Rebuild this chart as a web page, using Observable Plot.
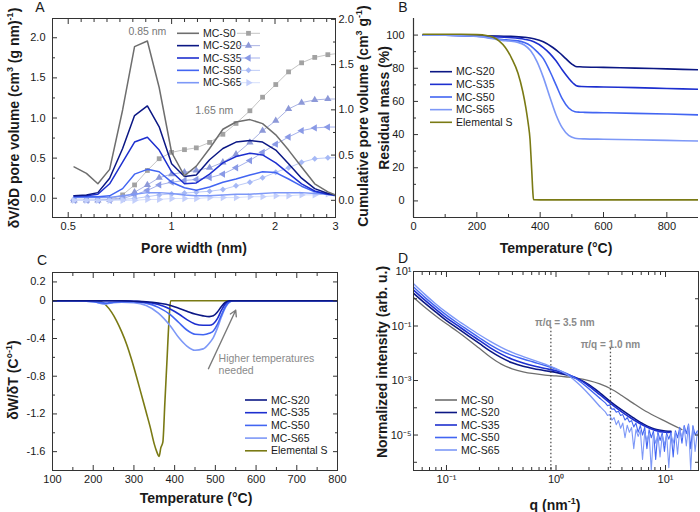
<!DOCTYPE html>
<html>
<head>
<meta charset="utf-8">
<script src="https://cdn.jsdelivr.net/npm/d3@7"></script>
<script src="https://cdn.jsdelivr.net/npm/@observablehq/plot@0.6"></script>
<style>
  body { margin: 0; background: #fff; }
  #fig { position: relative; width: 700px; height: 512px; overflow: hidden; background: #fff;
         font-family: "Liberation Sans", Arial, sans-serif; color: #1a1a1a; }
  .abs { position: absolute; white-space: nowrap; }
  .ct { transform: translate(-50%, -50%); }
  .vt { transform: translate(-50%, -50%) rotate(-90deg); }
  .title { font-weight: bold; font-size: 14px; }
  .letter { font-size: 14px; }
  sup { font-size: 9px; vertical-align: super; line-height: 0; }
</style>
</head>
<body>
<div id="fig"></div>
<script>
// ---------- shared ----------
const samples = ["MC-S0", "MC-S20", "MC-S35", "MC-S50", "MC-S65"];
const sampleColors = ["#6e6e6e", "#0b1784", "#1d2fcf", "#4265f2", "#7d98f7"];
const sulfurLabel = "Elemental S";
const sulfurColor = "#7a7a14";

// ---------- A: pore size distribution (DFT) + cumulative pore volume ----------
const poreWidth = [0.52, 0.565, 0.61, 0.66, 0.72, 0.78, 0.85, 0.92, 1.0, 1.09, 1.18, 1.29, 1.41, 1.54, 1.69, 1.84, 2.01, 2.19, 2.39, 2.61, 2.85, 3.0];
const psdS0  = [0.39, 0.31, 0.18, 0.36, 1.10, 1.89, 1.96, 1.38, 0.57, 0.28, 0.40, 0.62, 0.86, 0.95, 0.98, 0.93, 0.79, 0.60, 0.39, 0.18, 0.08, 0.04];
const psdS20 = [0.03, 0.04, 0.07, 0.25, 0.62, 1.03, 1.15, 0.89, 0.43, 0.27, 0.29, 0.48, 0.62, 0.70, 0.72, 0.70, 0.60, 0.43, 0.25, 0.12, 0.06, 0.04];
const psdS35 = [0.03, 0.03, 0.05, 0.18, 0.45, 0.70, 0.76, 0.60, 0.33, 0.18, 0.19, 0.30, 0.44, 0.52, 0.56, 0.54, 0.44, 0.31, 0.18, 0.09, 0.05, 0.04];
const psdS50 = [0.02, 0.02, 0.02, 0.03, 0.12, 0.30, 0.36, 0.33, 0.20, 0.13, 0.10, 0.14, 0.20, 0.24, 0.29, 0.33, 0.32, 0.24, 0.15, 0.08, 0.05, 0.04];
const psdS65 = [0.01, 0.01, 0.01, 0.01, 0.03, 0.05, 0.07, 0.07, 0.06, 0.04, 0.03, 0.03, 0.04, 0.05, 0.05, 0.06, 0.07, 0.07, 0.07, 0.06, 0.05, 0.03];
const cumS0  = [0, 0, 0, 0.01, 0.06, 0.17, 0.33, 0.46, 0.53, 0.56, 0.58, 0.64, 0.73, 0.85, 0.99, 1.14, 1.28, 1.42, 1.52, 1.58, 1.61, 1.62];
const cumS20 = [0, 0, 0, 0.01, 0.03, 0.09, 0.17, 0.25, 0.29, 0.31, 0.33, 0.36, 0.42, 0.51, 0.64, 0.77, 0.88, 1.01, 1.08, 1.11, 1.12, 1.12];
const cumS35 = [0, 0, 0, 0, 0.02, 0.06, 0.11, 0.17, 0.20, 0.22, 0.23, 0.25, 0.29, 0.36, 0.44, 0.53, 0.62, 0.70, 0.77, 0.80, 0.81, 0.81];
const cumS50 = [0, 0, 0, 0, 0.01, 0.02, 0.04, 0.06, 0.07, 0.08, 0.09, 0.10, 0.12, 0.16, 0.20, 0.25, 0.31, 0.36, 0.42, 0.46, 0.47, 0.47];
const cumS65 = [0, 0, 0, 0, 0, 0, 0.01, 0.01, 0.02, 0.02, 0.02, 0.03, 0.03, 0.03, 0.04, 0.04, 0.05, 0.05, 0.06, 0.06, 0.07, 0.07];
const peakMicro = {w: 0.85, idx: 6, text: "0.85 nm"};
const peakMeso = {w: 1.65, idx: 14, text: "1.65 nm"};

// ---------- B: TGA residual mass ----------
const tgaS20T = [30, 100, 200, 300, 350, 380, 410, 440, 460, 480, 500, 512, 525, 600, 700, 800, 900];
const tgaS20M = [100, 99.9, 99.7, 99.3, 98.7, 97.8, 96, 92.5, 89.5, 86, 82.5, 81.1, 80.9, 80.5, 80.1, 79.6, 79.1];
const tgaS35T = [30, 100, 200, 250, 300, 350, 380, 410, 430, 450, 470, 490, 505, 518, 530, 600, 700, 800, 900];
const tgaS35M = [100, 99.9, 99.5, 99, 98.5, 97.5, 96, 92.5, 89, 84.5, 79, 74, 70.8, 69.2, 69, 68.7, 68.3, 67.8, 67.3];
const tgaS50T = [30, 100, 200, 250, 280, 300, 330, 350, 370, 390, 410, 430, 450, 470, 490, 510, 525, 540, 600, 700, 800, 900];
const tgaS50M = [100, 99.9, 99.3, 98.2, 97.3, 97, 96.5, 95.5, 93.5, 90, 85.8, 78.5, 70, 61.5, 56, 53.8, 53.5, 53.4, 53.2, 52.8, 52.4, 51.9];
const tgaS65T = [30, 100, 200, 250, 280, 300, 330, 350, 370, 390, 410, 430, 450, 470, 490, 510, 525, 540, 600, 700, 800, 900];
const tgaS65M = [100, 99.9, 99.2, 97.8, 96.8, 96.4, 95.6, 94, 90.5, 84, 74.5, 63, 52, 44, 39.5, 37.8, 37.5, 37.4, 37.2, 36.9, 36.5, 36.1];
const tgaST = [30, 150, 200, 230, 250, 270, 290, 310, 330, 345, 355, 362, 368, 371, 374, 377, 379, 400, 600, 900];
const tgaSM = [100.5, 100.5, 100.3, 99.8, 98.8, 96.5, 92.5, 86, 77, 66, 56, 47, 37, 27, 16, 5, 0.7, 0.6, 0.6, 0.6];

// ---------- C: derivative weight loss ----------
const dtgT = [100, 150, 200, 230, 250, 270, 300, 330, 360, 390, 410, 430, 450, 470, 485, 495, 505, 515, 525, 535, 545, 600, 700, 800];
const dtgS20 = [0, 0, 0, 0, 0, 0, -0.005, -0.01, -0.025, -0.05, -0.08, -0.11, -0.14, -0.16, -0.168, -0.16, -0.12, -0.06, -0.015, 0, 0, 0, 0, 0];
const dtgS35 = [0, 0, 0, 0, 0, 0, -0.005, -0.015, -0.04, -0.09, -0.14, -0.2, -0.245, -0.26, -0.26, -0.245, -0.19, -0.1, -0.03, -0.003, 0, 0, 0, 0];
const dtgS50 = [0, 0, -0.01, -0.025, -0.015, -0.01, -0.01, -0.025, -0.07, -0.15, -0.23, -0.31, -0.355, -0.36, -0.345, -0.32, -0.25, -0.15, -0.06, -0.01, 0, 0, 0, 0];
const dtgS65 = [0, 0, -0.01, -0.035, -0.02, -0.015, -0.02, -0.05, -0.13, -0.27, -0.39, -0.48, -0.525, -0.51, -0.45, -0.39, -0.29, -0.17, -0.07, -0.015, 0, 0, 0, 0];
const dtgST = [100, 200, 220, 232, 245, 257, 270, 282, 294, 306, 318, 330, 340, 350, 356, 362, 366, 371, 376, 381, 386, 390, 400, 800];
const dtgSV = [0, 0, -0.01, -0.05, -0.12, -0.21, -0.33, -0.46, -0.62, -0.8, -0.99, -1.18, -1.34, -1.52, -1.6, -1.65, -1.56, -1.5, -1.08, -0.65, -0.22, 0, 0, 0];
const arrowC = [{x1: 483, y1: -0.72, x2: 550, y2: -0.10}];
const noteC = [{x: 508, y: -0.55, text: "Higher temperatures\nneeded"}];

// ---------- D: SAXS (log10 q in nm^-1, log10 normalized intensity) ----------
const logQ = [-1.3, -1.2, -1.1, -1.0, -0.9, -0.8, -0.7, -0.6, -0.5, -0.4, -0.3, -0.2, -0.1, 0, 0.1, 0.2, 0.3, 0.4, 0.5, 0.6, 0.7, 0.8, 0.9, 1.0];
const logQTailS0 = [1.1, 1.15];
const logQTailS20 = [1.05];
const saxsS0  = [0.05, -0.3, -0.62, -0.92, -1.2, -1.5, -1.82, -2.14, -2.4, -2.57, -2.68, -2.75, -2.8, -2.83, -2.87, -2.92, -3.0, -3.12, -3.3, -3.55, -3.82, -4.08, -4.3, -4.5];
const saxsS0Tail = [-4.7, -4.8];
const saxsS20 = [0.2, -0.15, -0.48, -0.8, -1.08, -1.36, -1.64, -1.92, -2.16, -2.35, -2.48, -2.57, -2.64, -2.7, -2.8, -2.93, -3.15, -3.45, -3.78, -4.08, -4.35, -4.6, -4.78, -4.85];
const saxsS20Tail = [-4.86];
const saxsS35 = [0.32, -0.04, -0.38, -0.7, -0.98, -1.26, -1.53, -1.8, -2.03, -2.22, -2.36, -2.47, -2.56, -2.64, -2.77, -2.94, -3.2, -3.52, -3.85, -4.15, -4.42, -4.65, -4.82, -4.9];
const saxsS35Tail = [-4.9];
const saxsS50 = [0.43, 0.06, -0.28, -0.6, -0.89, -1.16, -1.43, -1.69, -1.91, -2.08, -2.21, -2.33, -2.45, -2.58, -2.75, -2.98, -3.3, -3.65];
const saxsS65 = [0.55, 0.17, -0.18, -0.5, -0.79, -1.06, -1.32, -1.56, -1.78, -1.97, -2.12, -2.26, -2.4, -2.56, -2.78, -3.1, -3.5, -3.95];
const logQNoisy = [0.45, 0.47, 0.49, 0.51, 0.53, 0.55, 0.57, 0.59, 0.61, 0.63, 0.65, 0.67, 0.69, 0.71, 0.73, 0.75, 0.77, 0.79, 0.81, 0.83, 0.85, 0.87, 0.89, 0.91, 0.93, 0.95, 0.97, 0.99, 1.01, 1.03, 1.05, 1.07, 1.09, 1.11, 1.13, 1.15, 1.17, 1.19, 1.21, 1.23, 1.25, 1.27, 1.29];
const saxsS50Noisy = [-3.82, -3.92, -3.9, -4.05, -4.04, -4.16, -4.13, -4.28, -4.25, -4.45, -4.36, -4.52, -4.47, -4.7, -4.56, -4.9, -4.65, -5.0, -4.72, -5.5, -4.8, -5.1, -4.85, -5.9, -4.88, -5.2, -4.92, -5.6, -4.93, -5.15, -4.9, -5.8, -4.84, -5.1, -4.72, -5.3, -4.65, -4.95, -4.6, -5.5, -4.66, -5.0, -4.85];
const saxsS65Noisy = [-4.15, -4.28, -4.25, -4.45, -4.36, -4.62, -4.47, -4.75, -4.56, -5.1, -4.64, -4.9, -4.72, -5.5, -4.8, -5.05, -4.84, -5.9, -4.9, -5.2, -4.93, -6.3, -4.95, -5.3, -4.98, -5.8, -5.0, -5.35, -5.0, -6.2, -4.96, -5.3, -4.9, -5.7, -4.78, -5.1, -4.7, -5.4, -4.62, -6.3, -4.66, -5.6, -4.92];
const sizeMarkers = [
  {q: Math.PI / 3.5, text: "π/q = 3.5 nm", dy: 47, dx: 14, inset: 56},
  {q: Math.PI / 1.0, text: "π/q = 1.0 nm", dy: 69, dx: 0, inset: 77}
];

// ---------- helpers ----------
const fig = document.getElementById("fig");
const baseStyle = {fontFamily: '"Liberation Sans", Arial, sans-serif', fontSize: "11px", color: "#1a1a1a", background: "transparent", overflow: "visible"};
const axisInk = "#333";
const none = () => "";
const ax = (k, o) => (k === "x" ? Plot.axisX : Plot.axisY)({label: null, stroke: axisInk, ...o});
const zip = (xs, ys, kx, ky) => xs.map((x, i) => ({[kx]: x, [ky]: ys[i]}));

function place(svg, left, top) {
  const d = document.createElement("div");
  d.className = "abs";
  d.style.left = left + "px";
  d.style.top = top + "px";
  d.appendChild(svg);
  fig.appendChild(d);
}
function label(html, x, y, cls) {
  const d = document.createElement("div");
  d.className = "abs " + cls;
  d.style.left = x + "px";
  d.style.top = y + "px";
  d.innerHTML = html;
  fig.appendChild(d);
}

// ---------- Panel A ----------
const yL = [-0.24, 2.24], yR = [-0.19, 2.01];
const toL = v => yL[0] + (v - yR[0]) * (yL[1] - yL[0]) / (yR[1] - yR[0]);
const toR = v => yR[0] + (v - yL[0]) * (yR[1] - yR[0]) / (yL[1] - yL[0]);
const psdAll = [psdS0, psdS20, psdS35, psdS50, psdS65];
const cumAll = [cumS0, cumS20, cumS35, cumS50, cumS65];
const cumLine = ["#c4c4c4", "#aab3e3", "#a5b1ec", "#bccaf7", "#d6dffc"];
const cumMark = ["#a2a2a2", "#8d99d8", "#8a9ae6", "#a6b9f6", "#c3cffb"];
const cumSym = [{symbol: "square", rotate: 0}, {symbol: "triangle", rotate: 0}, {symbol: "triangle", rotate: -90}, {symbol: "diamond2", rotate: 0}, {symbol: "triangle", rotate: 90}];
const minorA = d3.range(1, 21).filter(k => k % 8 !== 0).map(k => 0.5 * 2 ** (k / 8)).filter(w => w < 3);

const marksA = [];
cumAll.forEach((c, i) => {
  const rows = zip(poreWidth, c, "w", "c");
  marksA.push(Plot.line(rows, {x: "w", y: d => toL(d.c), stroke: cumLine[i], strokeWidth: 1, clip: true}));
  marksA.push(Plot.dot(rows.filter(d => d.w < 2.95), {x: "w", y: d => toL(d.c), symbol: cumSym[i].symbol, rotate: cumSym[i].rotate, r: 2.7, fill: cumMark[i], stroke: "none", clip: true}));
});
psdAll.slice().reverse().forEach((p, j) => {
  const i = psdAll.length - 1 - j;
  marksA.push(Plot.line(zip(poreWidth, p, "w", "v"), {x: "w", y: "v", stroke: sampleColors[i], strokeWidth: 1.5, clip: true}));
});
marksA.push(
  Plot.text([peakMicro], {x: "w", y: d => psdS0[d.idx], text: "text", dy: -9, fill: "#777", fontSize: 10.5}),
  Plot.text([peakMeso], {x: "w", y: d => psdS0[d.idx], text: "text", dx: -32, dy: -9, fill: "#777", fontSize: 10.5})
);
marksA.push(
  Plot.frame({stroke: axisInk}),
  ax("x", {ticks: [0.5, 1, 2, 3], tickFormat: d => String(d), tickSize: -5, tickPadding: 10}),
  ax("x", {ticks: minorA, tickSize: -3, tickFormat: none}),
  ax("x", {anchor: "top", ticks: [0.5, 1, 2, 3], tickSize: -5, tickFormat: none}),
  ax("x", {anchor: "top", ticks: minorA, tickSize: -3, tickFormat: none}),
  ax("y", {ticks: [0, 0.5, 1, 1.5, 2], tickFormat: d => d.toFixed(1), tickSize: -5, tickPadding: 12}),
  ax("y", {ticks: [0.25, 0.75, 1.25, 1.75], tickSize: -3, tickFormat: none}),
  ax("y", {anchor: "right", ticks: [0, 0.5, 1, 1.5, 2].map(toL), tickFormat: d => (Math.round(toR(d) * 10) / 10 + 0).toFixed(1), tickSize: -5, tickPadding: 8}),
  ax("y", {anchor: "right", ticks: [0.25, 0.75, 1.25, 1.75].map(toL), tickSize: -3, tickFormat: none})
);
const plotA = Plot.plot({
  width: 380, height: 240, marginLeft: 52, marginRight: 45, marginTop: 18, marginBottom: 23,
  x: {type: "log", domain: [0.45, 3]}, y: {domain: yL}, style: baseStyle, marks: marksA
});

// ---------- Panel B ----------
const tgaSeries = [
  {t: tgaS20T, m: tgaS20M, color: sampleColors[1]},
  {t: tgaS35T, m: tgaS35M, color: sampleColors[2]},
  {t: tgaS50T, m: tgaS50M, color: sampleColors[3]},
  {t: tgaS65T, m: tgaS65M, color: sampleColors[4]},
  {t: tgaST, m: tgaSM, color: sulfurColor}
];
const xB = [0, 900], yB = [-10, 110];
const plotB = Plot.plot({
  width: 350, height: 240, marginLeft: 63, marginRight: 2, marginTop: 18, marginBottom: 23,
  x: {domain: xB}, y: {domain: yB}, style: baseStyle,
  marks: [
    ...tgaSeries.map(s => Plot.line(zip(s.t, s.m, "t", "m"), {x: "t", y: "m", stroke: s.color, strokeWidth: 1.6, curve: "monotone-x", clip: true})),
    Plot.ruleX([xB[0]], {stroke: axisInk, strokeWidth: 1.2}),
    Plot.ruleY([yB[0]], {stroke: axisInk, strokeWidth: 1.2}),
    ax("x", {ticks: [0, 200, 400, 600, 800], tickSize: -5, tickPadding: 10}),
    ax("x", {ticks: [100, 300, 500, 700], tickSize: -3, tickFormat: none}),
    ax("y", {ticks: [0, 20, 40, 60, 80, 100], tickSize: -5, tickPadding: 14}),
    ax("y", {ticks: [10, 30, 50, 70, 90], tickSize: -3, tickFormat: none})
  ]
});

// ---------- Panel C ----------
const dtgSeries = [
  {v: dtgS20, color: sampleColors[1]},
  {v: dtgS35, color: sampleColors[2]},
  {v: dtgS50, color: sampleColors[3]},
  {v: dtgS65, color: sampleColors[4]}
];
const fmtC = d => d === 0 ? "0" : d.toFixed(1);
const plotC = Plot.plot({
  width: 350, height: 245, marginLeft: 52, marginRight: 13, marginTop: 22, marginBottom: 25,
  x: {domain: [100, 800]}, y: {domain: [-1.8, 0.3]}, style: baseStyle,
  marks: [
    Plot.line(zip(dtgST, dtgSV, "t", "v"), {x: "t", y: "v", stroke: sulfurColor, strokeWidth: 1.6, curve: "monotone-x", clip: true}),
    ...dtgSeries.slice().reverse().map(s => Plot.line(zip(dtgT, s.v, "t", "v"), {x: "t", y: "v", stroke: s.color, strokeWidth: 1.6, curve: "monotone-x", clip: true})),
    Plot.arrow(arrowC, {x1: "x1", y1: "y1", x2: "x2", y2: "y2", stroke: "#7a7a7a", strokeWidth: 1.4, headLength: 7}),
    Plot.text(noteC, {x: "x", y: "y", text: "text", textAnchor: "start", lineAnchor: "top", fill: "#8a8a8a", fontSize: 10.5, lineHeight: 1.2}),
    Plot.frame({stroke: axisInk}),
    ax("x", {ticks: d3.range(100, 801, 100), tickSize: -5, tickPadding: 10}),
    ax("x", {ticks: d3.range(150, 800, 100), tickSize: -3, tickFormat: none}),
    ax("x", {anchor: "top", ticks: d3.range(100, 801, 100), tickSize: -5, tickFormat: none}),
    ax("x", {anchor: "top", ticks: d3.range(150, 800, 100), tickSize: -3, tickFormat: none}),
    ax("y", {ticks: [0.2, 0, -0.4, -0.8, -1.2, -1.6], tickFormat: fmtC, tickSize: -5, tickPadding: 12}),
    ax("y", {ticks: [-0.2, -0.6, -1.0, -1.4], tickSize: -3, tickFormat: none}),
    ax("y", {anchor: "right", ticks: [0.2, 0, -0.4, -0.8, -1.2, -1.6], tickSize: -5, tickFormat: none}),
    ax("y", {anchor: "right", ticks: [-0.2, -0.6, -1.0, -1.4], tickSize: -3, tickFormat: none})
  ]
});

// ---------- Panel D ----------
const supMap = {"-": "⁻", "0": "⁰", "1": "¹", "2": "²", "3": "³", "4": "⁴", "5": "⁵", "6": "⁶", "7": "⁷", "8": "⁸", "9": "⁹"};
const fmtPow = d => "10" + String(Math.round(Math.log10(d))).split("").map(c => supMap[c]).join("");
const pts = (lq, li) => lq.map((q, i) => ({q: 10 ** q, I: 10 ** li[i]}));
const saxsSmooth = [
  {rows: pts(logQ.concat(logQTailS0), saxsS0.concat(saxsS0Tail)), color: sampleColors[0], w: 1.3},
  {rows: pts(logQ.concat(logQTailS20), saxsS20.concat(saxsS20Tail)), color: sampleColors[1], w: 1.6},
  {rows: pts(logQ.concat(logQTailS20), saxsS35.concat(saxsS35Tail)), color: sampleColors[2], w: 1.6},
  {rows: pts(logQ.slice(0, saxsS50.length), saxsS50), color: sampleColors[3], w: 1.4},
  {rows: pts(logQ.slice(0, saxsS65.length), saxsS65), color: sampleColors[4], w: 1.4}
];
const saxsNoisy = [
  {rows: pts([logQ[saxsS50.length - 1]].concat(logQNoisy), [saxsS50[saxsS50.length - 1]].concat(saxsS50Noisy)), color: sampleColors[3]},
  {rows: pts([logQ[saxsS65.length - 1]].concat(logQNoisy), [saxsS65[saxsS65.length - 1]].concat(saxsS65Noisy)), color: sampleColors[4]}
];
const minorQ = [0.06, 0.07, 0.08, 0.09, 0.2, 0.3, 0.4, 0.5, 0.6, 0.7, 0.8, 0.9, 2, 3, 4, 5, 6, 7, 8, 9];
const oddDec = [10, 1e-1, 1e-3, 1e-5], evenDec = [1, 1e-2, 1e-4, 1e-6];
const marksD = [];
saxsSmooth.forEach((s, i) => {
  marksD.push(Plot.line(s.rows, {x: "q", y: "I", stroke: s.color, strokeWidth: s.w, curve: "catmull-rom", clip: true}));
  if (i >= 3) {
    const n = saxsNoisy[i - 3];
    marksD.push(Plot.line(n.rows, {x: "q", y: "I", stroke: n.color, strokeWidth: 1.1, clip: true}));
  }
});
sizeMarkers.forEach(m => {
  marksD.push(
    Plot.ruleX([m], {x: "q", insetTop: m.inset, stroke: "#555", strokeWidth: 1.3, strokeDasharray: "1.5,2.2"}),
    Plot.text([m], {x: "q", frameAnchor: "top", dy: m.dy, dx: m.dx, text: "text", fill: "#8a8a8a", fontWeight: "bold", fontSize: 10})
  );
});
marksD.push(
  Plot.frame({stroke: axisInk}),
  ax("x", {ticks: [0.1, 1, 10], tickFormat: fmtPow, tickSize: -5, tickPadding: 10}),
  ax("x", {ticks: minorQ, tickSize: -3, tickFormat: none}),
  ax("x", {anchor: "top", ticks: [0.1, 1, 10], tickSize: -5, tickFormat: none}),
  ax("x", {anchor: "top", ticks: minorQ, tickSize: -3, tickFormat: none}),
  ax("y", {ticks: oddDec, tickFormat: fmtPow, tickSize: -5, tickPadding: 7}),
  ax("y", {ticks: evenDec, tickSize: -4, tickFormat: none}),
  ax("y", {anchor: "right", ticks: oddDec.concat(evenDec), tickSize: -4, tickFormat: none})
);
const plotD = Plot.plot({
  width: 350, height: 245, marginLeft: 63, marginRight: 2, marginTop: 21, marginBottom: 25,
  x: {type: "log", domain: [0.05, 20]}, y: {type: "log", domain: [5e-7, 10]}, style: baseStyle, marks: marksD
});

place(plotB, 350, 0);
place(plotD, 350, 250);
place(plotA, 0, 0);
place(plotC, 0, 250);

// ---------- titles ----------
label("A", 40, 7, "ct letter");
label("B", 403, 7, "ct letter");
label("C", 42, 260, "ct letter");
label("D", 403, 258, "ct letter");
label("δV/δD pore volume (cm<sup>3</sup> (g nm)<sup>-1</sup>)", 14, 118, "vt title");
label("Pore width (nm)", 194, 248, "ct title");
label("Cumulative pore volume (cm<sup>3</sup> g<sup>-1</sup>)", 363, 116, "vt title");
label("Residual mass (%)", 384, 108, "vt title");
label("Temperature (°C)", 556, 248, "ct title");
label("δW/δT (C°<sup>-1</sup>)", 13, 380, "vt title");
label("Temperature (°C)", 196, 498, "ct title");
label("Normalized intensity (arb. u.)", 382, 362, "vt title");
label("q (nm<sup>-1</sup>)", 555, 505, "ct title");

// ---------- legends ----------
const overlay = d3.create("svg").attr("width", 700).attr("height", 512)
  .style("position", "absolute").style("left", 0).style("top", 0)
  .style("font-family", '"Liberation Sans", Arial, sans-serif').style("pointer-events", "none");
function legend(items, {x, y, step, len = 22, gap = 4}) {
  items.forEach((it, i) => {
    const cy = y + i * step;
    overlay.append("line").attr("x1", x).attr("x2", x + len).attr("y1", cy).attr("y2", cy)
      .attr("stroke", it.color).attr("stroke-width", 1.6);
    overlay.append("text").attr("x", x + len + gap).attr("y", cy).attr("dy", "0.35em")
      .attr("font-size", 10.5).attr("fill", "#1a1a1a").text(it.label);
  });
}
const itemsAll = samples.map((s, i) => ({label: s, color: sampleColors[i]}));
const itemsTGA = itemsAll.slice(1).concat([{label: sulfurLabel, color: sulfurColor}]);
legend(itemsAll, {x: 177, y: 33.3, step: 12.35});
const d3Sym = {square: d3.symbolSquare, triangle: d3.symbolTriangle, diamond2: d3.symbolDiamond2};
samples.forEach((s, i) => {
  const cy = 33.3 + i * 12.35;
  overlay.append("line").attr("x1", 237).attr("x2", 260).attr("y1", cy).attr("y2", cy)
    .attr("stroke", cumLine[i]).attr("stroke-width", 1);
  overlay.append("path").attr("d", d3.symbol(d3Sym[cumSym[i].symbol], 2.7 * 2.7 * Math.PI)())
    .attr("transform", `translate(248.5,${cy}) rotate(${cumSym[i].rotate})`).attr("fill", cumMark[i]);
});
legend(itemsTGA, {x: 430, y: 71.7, step: 12.65});
legend(itemsTGA, {x: 245, y: 400, step: 12.7});
legend(itemsAll, {x: 435, y: 400, step: 12.5});
fig.appendChild(overlay.node());
</script>
</body>
</html>
